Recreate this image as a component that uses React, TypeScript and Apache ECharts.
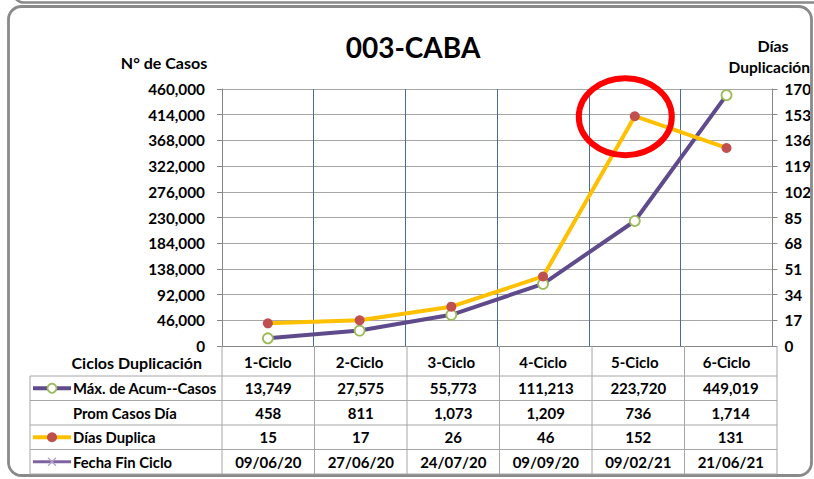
import { useEffect, useRef } from 'react';
import * as echarts from 'echarts';

const categories = ['1-Ciclo', '2-Ciclo', '3-Ciclo', '4-Ciclo', '5-Ciclo', '6-Ciclo'];
const maxAcumCasos = [13749, 27575, 55773, 111213, 223720, 449019];
const promCasosDia = [458, 811, 1073, 1209, 736, 1714];
const diasDuplica = [15, 17, 26, 46, 152, 131];
const fechaFinCiclo = ['09/06/20', '27/06/20', '24/07/20', '09/09/20', '09/02/21', '21/06/21'];
const rowLabels = ['Máx. de Acum--Casos', 'Prom Casos Día', 'Días Duplica', 'Fecha Fin Ciclo'];
const leftAxisRange = [0, 460000, 46000];
const rightAxisRange = [0, 170, 17];
const highlightIndex = 4;

const FONT = 'Lato, "Open Sans", sans-serif';
const W = 814;
const H = 479;
const GL = 222;
const GR = 777;
const GT = 89;
const GB = 346;
const TL = 30;
const rowsY = [376, 400.5, 425, 449.5, 474];

const fmt = (n: number) => n.toLocaleString('en-US');

export default function App() {
  const ref = useRef<HTMLDivElement>(null);
  useEffect(() => {
    if (!ref.current) return;
    const chart = echarts.init(ref.current, null, { renderer: 'svg' });
    const axisColor = '#868686';
    chart.setOption({
      animation: false,
      backgroundColor: '#ffffff',
      grid: { left: GL, right: W - GR, top: GT, bottom: H - GB, containLabel: false },
      xAxis: {
        type: 'category',
        data: categories,
        boundaryGap: true,
        axisLine: { show: true, lineStyle: { color: axisColor, width: 1 } },
        axisTick: { show: false },
        axisLabel: { margin: 8, color: '#000', fontFamily: FONT, fontWeight: 'bold', fontSize: 15 },
        splitLine: { show: true, lineStyle: { color: '#4a6aa3', width: 1 } },
      },
      yAxis: [
        {
          type: 'value',
          min: leftAxisRange[0],
          max: leftAxisRange[1],
          interval: leftAxisRange[2],
          position: 'left',
          axisLine: { show: true, lineStyle: { color: axisColor } },
          axisTick: { show: true, length: 5, lineStyle: { color: axisColor } },
          axisLabel: {
            margin: 17,
            color: '#000',
            fontFamily: FONT,
            fontWeight: 'bold',
            fontSize: 15.3,
            formatter: (v: number) => fmt(v),
          },
          splitLine: { show: true, lineStyle: { color: '#a6a6a6', width: 1 } },
        },
        {
          type: 'value',
          min: rightAxisRange[0],
          max: rightAxisRange[1],
          interval: rightAxisRange[2],
          position: 'right',
          axisLine: { show: true, lineStyle: { color: axisColor } },
          axisTick: { show: true, length: 5, lineStyle: { color: axisColor } },
          axisLabel: { margin: 12, color: '#000', fontFamily: FONT, fontWeight: 'bold', fontSize: 15.3 },
          splitLine: { show: false },
        },
      ],
      series: [
        {
          type: 'line',
          name: rowLabels[0],
          data: maxAcumCasos,
          yAxisIndex: 0,
          symbol: 'circle',
          symbolSize: 10,
          lineStyle: { color: '#5f4b8b', width: 4 },
          itemStyle: { color: '#ffffff', borderColor: '#9bbb59', borderWidth: 1.8 },
          z: 3,
        },
        {
          type: 'line',
          name: rowLabels[2],
          data: diasDuplica,
          yAxisIndex: 1,
          symbol: 'circle',
          symbolSize: 10,
          lineStyle: { color: '#ffc000', width: 4 },
          itemStyle: { color: '#c0504d', borderWidth: 0 },
          z: 4,
        },
      ],
    });

    const colW = (GR - GL) / categories.length;
    const els: any[] = [];
    const frameStroke = '#8a8a8a';
    // frames
    els.push({ type: 'rect', shape: { x: 13, y: -60, width: 900, height: 62.5, r: 11 }, style: { fill: 'none', stroke: frameStroke, lineWidth: 2.6 }, z: 1 });
    els.push({ type: 'rect', shape: { x: 8.5, y: 6.5, width: 803, height: 469, r: 13 }, style: { fill: 'none', stroke: frameStroke, lineWidth: 2.8 }, z: 1 });

    const txt = (text: string, x: number, y: number, size: number, align = 'center') => ({
      type: 'text',
      x,
      y,
      style: { text, fill: '#000', font: `bold ${size}px ${FONT}`, textAlign: align, textVerticalAlign: 'middle' },
      z: 10,
    });
    els.push(txt('003-CABA', 413, 47, 28));
    els.push(txt('N° de Casos', 164, 62, 16));
    els.push(txt('Días', 773, 45, 16));
    els.push(txt('Duplicación', 810, 67, 15.5, 'right'));
    els.push(txt('Ciclos Duplicación', 202, 362, 16, 'right'));

    // table lines
    const tableStroke = '#a6a6a6';
    rowsY.forEach((y) => {
      els.push({ type: 'line', shape: { x1: TL, y1: y, x2: GR, y2: y }, style: { stroke: tableStroke, lineWidth: 1 }, z: 5 });
    });
    els.push({ type: 'line', shape: { x1: TL, y1: rowsY[0], x2: TL, y2: rowsY[4] }, style: { stroke: tableStroke, lineWidth: 1 }, z: 5 });
    for (let i = 0; i <= categories.length; i++) {
      const x = GL + i * colW;
      els.push({ type: 'line', shape: { x1: x, y1: GB, x2: x, y2: rowsY[4] }, style: { stroke: tableStroke, lineWidth: 1 }, z: 5 });
    }

    // row labels
    const rowCY = rowsY.slice(0, 4).map((y, i) => (y + rowsY[i + 1]) / 2);
    rowLabels.forEach((l, i) => els.push(txt(l, 73, rowCY[i], 14.8, 'left')));

    // legend keys
    els.push({ type: 'line', shape: { x1: 33, y1: rowCY[0], x2: 71, y2: rowCY[0] }, style: { stroke: '#5f4b8b', lineWidth: 4 }, z: 6 });
    els.push({ type: 'circle', shape: { cx: 52, cy: rowCY[0], r: 4.5 }, style: { fill: '#fff', stroke: '#9bbb59', lineWidth: 1.8 }, z: 7 });
    els.push({ type: 'line', shape: { x1: 33, y1: rowCY[2], x2: 71, y2: rowCY[2] }, style: { stroke: '#ffc000', lineWidth: 4 }, z: 6 });
    els.push({ type: 'circle', shape: { cx: 52, cy: rowCY[2], r: 5 }, style: { fill: '#c0504d' }, z: 7 });
    els.push({ type: 'line', shape: { x1: 33, y1: rowCY[3], x2: 71, y2: rowCY[3] }, style: { stroke: '#8064a2', lineWidth: 3 }, z: 6 });
    els.push({ type: 'line', shape: { x1: 48, y1: rowCY[3] - 4, x2: 56, y2: rowCY[3] + 4 }, style: { stroke: '#b3a2c7', lineWidth: 1.2 }, z: 7 });
    els.push({ type: 'line', shape: { x1: 48, y1: rowCY[3] + 4, x2: 56, y2: rowCY[3] - 4 }, style: { stroke: '#b3a2c7', lineWidth: 1.2 }, z: 7 });

    // values
    const rows = [maxAcumCasos.map(fmt), promCasosDia.map(fmt), diasDuplica.map(fmt), fechaFinCiclo];
    rows.forEach((r, ri) => {
      r.forEach((v, ci) => els.push(txt(v, GL + (ci + 0.5) * colW, rowCY[ri], 15)));
    });

    // highlight ellipse around the peak doubling value
    const p = chart.convertToPixel({ seriesIndex: 1 }, [highlightIndex, diasDuplica[highlightIndex]]) as number[];
    els.push({ type: 'ellipse', shape: { cx: p[0] - 9.5, cy: p[1] + 0.5, rx: 46.5, ry: 38.5 }, style: { fill: 'none', stroke: '#ff0000', lineWidth: 6 }, z: 20 });

    chart.setOption({ graphic: els });
    return () => chart.dispose();
  }, []);
  return <div ref={ref} style={{ position: 'fixed', left: 0, top: 0, width: W, height: H, background: '#fff' }} />;
}
